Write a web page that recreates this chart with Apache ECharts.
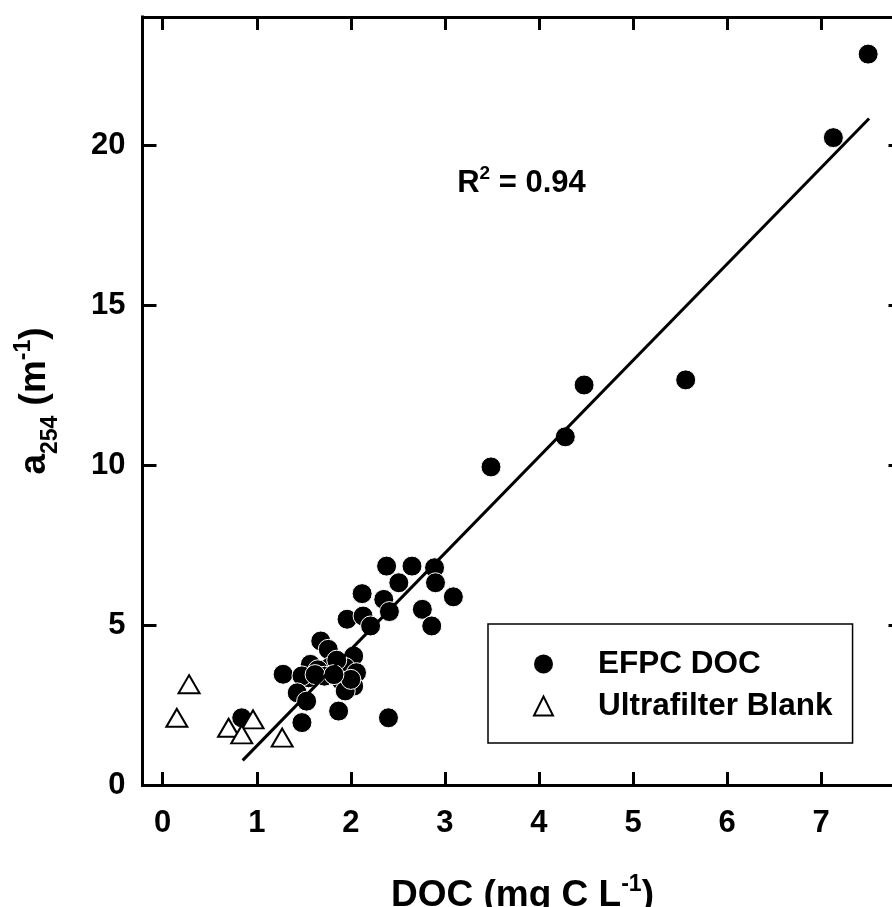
<!DOCTYPE html>
<html><head><meta charset="utf-8">
<script src="https://cdn.jsdelivr.net/npm/echarts@6/dist/echarts.min.js"></script>
<style>html,body{margin:0;padding:0;background:#fff}#c{width:892px;height:907px}</style>
</head><body><div id="c"></div>
<script>
// ---- data ----
const xTicks = [0, 1, 2, 3, 4, 5, 6, 7];
const yTickLabels = [0, 5, 10, 15, 20];
const yTickMarks = [5, 10, 15, 20];

const efpcX = [7.50, 7.13, 5.56, 4.48, 4.28, 3.49, 3.09, 2.38, 2.65, 2.89, 2.51, 2.90, 2.12, 2.35, 2.41, 2.76, 2.86, 1.96, 2.13, 2.21,
  1.68, 1.76, 2.03, 1.28, 1.57, 1.78, 1.94, 2.06, 1.55, 1.48, 1.90, 2.03, 1.94, 1.43, 1.53, 1.87, 1.48, 2.40, 0.84,
  1.65, 1.72, 1.85, 2.00, 1.62, 1.82];
const efpcY = [22.84, 20.23, 12.66, 12.50, 10.88, 9.94, 5.88, 6.84, 6.84, 6.79, 6.32, 6.32, 5.98, 5.80, 5.42, 5.49, 4.97, 5.18, 5.28, 4.97,
  4.50, 4.24, 4.03, 3.46, 3.77, 3.69, 3.67, 3.51, 3.35, 3.41, 3.25, 3.09, 2.94, 2.88, 2.62, 2.31, 1.95, 2.10, 2.10,
  3.60, 3.40, 3.90, 3.30, 3.45, 3.45];

const blankX = [0.28, 0.15, 0.96, 0.70, 0.84, 1.27];
const blankY = [3.15, 2.10, 2.05, 1.79, 1.58, 1.48];

const fitX = [0.85, 7.51];
const fitY = [0.77, 20.83];

const r2Pos = [3.13, 18.3];
const r2Text = '0.94';

// ---- chart ----
const FONT = '"Liberation Sans", Arial, Helvetica, sans-serif';
const xMin = -0.215, xMax = 7.865, yMin = 0, yMax = 24;
const lineSt = { color: '#000', width: 3, cap: 'square' };
const tickSt = { color: '#000', width: 3 };
const lblSt = { color: '#000', fontFamily: FONT, fontWeight: 'bold', fontSize: 31 };

function zip(a, b) { return a.map((v, i) => [v, b[i]]); }

const chart = echarts.init(document.getElementById('c'));
chart.setOption({
  animation: false,
  backgroundColor: '#fff',
  grid: { left: 142.5, top: 17, width: 760, height: 768, containLabel: false, outerBoundsMode: 'none' },
  xAxis: [{
    type: 'value', position: 'bottom', min: xMin, max: xMax,
    axisLine: { show: true, onZero: false, lineStyle: lineSt },
    axisTick: { show: true, inside: true, length: 13, lineStyle: tickSt, customValues: xTicks },
    axisLabel: Object.assign({ show: true, margin: 23, customValues: xTicks }, lblSt),
    splitLine: { show: false },
    name: '{m|DOC (mg C L}{s|-1}{m|)}',
    nameLocation: 'middle', nameGap: 88,
    nameTextStyle: {
      rich: {
        m: { fontFamily: FONT, fontWeight: 'bold', fontSize: 37, color: '#000', verticalAlign: 'bottom', padding: [0, 0, 0, 0] },
        s: { fontFamily: FONT, fontWeight: 'bold', fontSize: 23, color: '#000', verticalAlign: 'bottom', padding: [0, 0, 18, 0] }
      }
    }
  }, {
    type: 'value', position: 'top', min: xMin, max: xMax,
    axisLine: { show: true, onZero: false, lineStyle: lineSt },
    axisTick: { show: true, inside: true, length: 13, lineStyle: tickSt, customValues: xTicks },
    axisLabel: { show: false }, splitLine: { show: false }
  }],
  yAxis: [{
    type: 'value', position: 'left', min: yMin, max: yMax,
    axisLine: { show: true, onZero: false, lineStyle: lineSt },
    axisTick: { show: true, inside: true, length: 14, lineStyle: tickSt, customValues: yTickMarks },
    axisLabel: Object.assign({ show: true, margin: 17, customValues: yTickLabels }, lblSt),
    splitLine: { show: false },
    name: '{m|a}{b|254}{m| (m}{s|-1}{m|)}',
    nameLocation: 'middle', nameRotate: 90, nameGap: 80,
    nameTextStyle: {
      rich: {
        m: { fontFamily: FONT, fontWeight: 'bold', fontSize: 37, color: '#000', verticalAlign: 'bottom', padding: [0, 0, 9, 0] },
        b: { fontFamily: FONT, fontWeight: 'bold', fontSize: 23, color: '#000', verticalAlign: 'bottom', padding: [0, 0, 0, 0] },
        s: { fontFamily: FONT, fontWeight: 'bold', fontSize: 23, color: '#000', verticalAlign: 'bottom', padding: [0, 0, 27, 0] }
      }
    }
  }, {
    type: 'value', position: 'right', min: yMin, max: yMax,
    axisLine: { show: true, onZero: false, lineStyle: lineSt },
    axisTick: { show: true, inside: true, length: 14, lineStyle: tickSt, customValues: yTickMarks },
    axisLabel: { show: false }, splitLine: { show: false }
  }],
  legend: {
    orient: 'vertical', left: 488, top: 624,
    padding: [24, 20, 21, 45], itemGap: 10, itemWidth: 19, itemHeight: 19,
    borderColor: '#000', borderWidth: 1.5, backgroundColor: '#fff',
    selectedMode: false,
    textStyle: { color: '#000', fontFamily: FONT, fontWeight: 'bold', fontSize: 31.5, lineHeight: 30, padding: [0, 0, 0, 40] },
    data: [
      { name: 'EFPC DOC', icon: 'circle', itemStyle: { color: '#000', borderWidth: 0 } },
      { name: 'Ultrafilter Blank', icon: 'triangle', itemStyle: { color: '#fff', borderColor: '#000', borderWidth: 2 } }
    ]
  },
  series: [{
    name: 'EFPC DOC', type: 'scatter', xAxisIndex: 0, yAxisIndex: 0,
    data: zip(efpcX, efpcY), symbol: 'circle', symbolSize: 20,
    itemStyle: { color: '#000', borderColor: '#fff', borderWidth: 1, opacity: 1 }, z: 2
  }, {
    name: 'fit', type: 'line', xAxisIndex: 0, yAxisIndex: 0,
    data: zip(fitX, fitY), showSymbol: false, symbol: 'none',
    lineStyle: { color: '#000', width: 3 }, z: 3, silent: true
  }, {
    name: 'Ultrafilter Blank', type: 'scatter', xAxisIndex: 0, yAxisIndex: 0,
    data: zip(blankX, blankY), symbol: 'triangle', symbolSize: [21, 18],
    itemStyle: { color: '#fff', borderColor: '#000', borderWidth: 2, opacity: 1 }, z: 4
  }]
});

const p = chart.convertToPixel({ xAxisIndex: 0, yAxisIndex: 0 }, r2Pos);
chart.setOption({
  graphic: [{
    type: 'text', x: p[0], y: p[1], z: 10,
    style: {
      text: '{m|R}{s|2}{m| = ' + r2Text + '}',
      align: 'left', verticalAlign: 'bottom',
      rich: {
        m: { fontFamily: FONT, fontWeight: 'bold', fontSize: 31, fill: '#000', verticalAlign: 'bottom' },
        s: { fontFamily: FONT, fontWeight: 'bold', fontSize: 19, fill: '#000', verticalAlign: 'bottom', padding: [0, 0, 16, 0] }
      }
    }
  }]
});
</script>
</body></html>
